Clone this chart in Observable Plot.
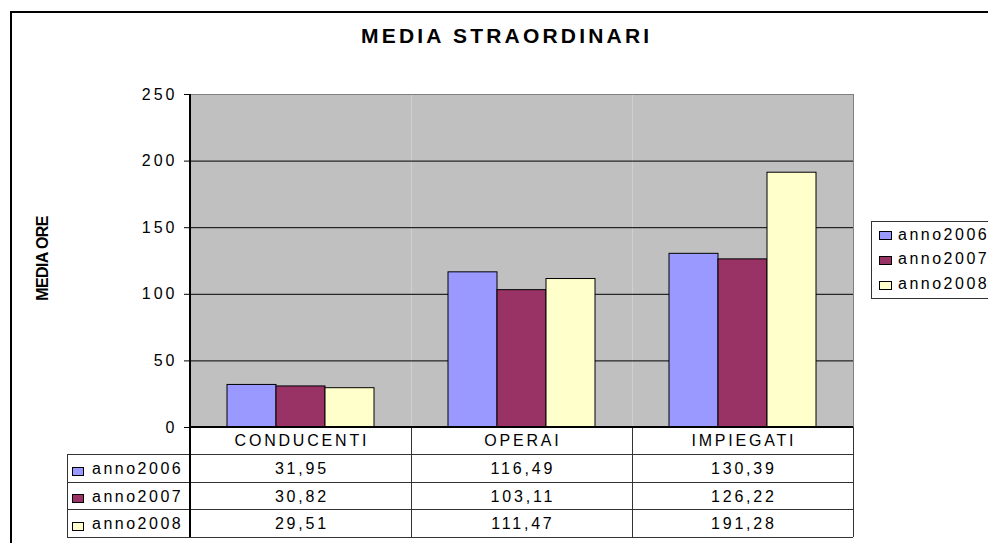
<!DOCTYPE html>
<html><head><meta charset="utf-8">
<script src="https://cdn.jsdelivr.net/npm/d3@7"></script>
<script src="https://cdn.jsdelivr.net/npm/@observablehq/plot@0.6"></script>
<style>
html,body{margin:0;padding:0;background:#fff;overflow:hidden}
#wrap{position:relative;width:988px;height:543px;overflow:hidden;background:#fff}
#border{position:absolute;left:10px;top:11px;width:1100px;height:700px;border:2px solid #000;box-sizing:border-box}
#chart{position:absolute;left:0;top:0}
#chart svg{display:block}
</style></head><body>
<div id="wrap"><div id="border"></div><div id="chart"></div></div>
<script>
const title = "MEDIA STRAORDINARI";
const yLabel = "MEDIA ORE";
const categories = ["CONDUCENTI", "OPERAI", "IMPIEGATI"];
const series = ["anno2006", "anno2007", "anno2008"];
const colors = ["#9999FF", "#993366", "#FFFFCC"];
const anno2006 = [31.95, 116.49, 130.39];
const anno2007 = [30.82, 103.11, 126.22];
const anno2008 = [29.51, 111.47, 191.28];
const yTicks = [0, 50, 100, 150, 200, 250];

const valuesBySeries = [anno2006, anno2007, anno2008];
const rows = series.flatMap((s, i) => categories.map((c, j) => ({series: s, category: c, value: valuesBySeries[i][j]})));
const fmt = v => v.toFixed(2).replace(".", ",");
const FONT = '"Liberation Sans", Arial, sans-serif';

const plot = Plot.plot({
  width: 988, height: 543,
  marginLeft: 190, marginRight: 135, marginTop: 94, marginBottom: 116,
  style: {fontFamily: FONT, fontSize: "16px", color: "#000", background: "transparent", overflow: "visible"},
  fx: {domain: categories, padding: 0, axis: null},
  x: {domain: series, paddingInner: 0, paddingOuter: 0.73, axis: null},
  y: {domain: [0, 250], axis: null},
  color: {domain: series, range: colors},
  marks: [
    Plot.frame({fill: "#c0c0c0"}),
    Plot.gridY({ticks: yTicks.filter(t => t > 0 && t < 250), stroke: "#000", strokeOpacity: 1}),
    Plot.barY(rows, {fx: "category", x: "series", y: "value", fill: "series", stroke: "#000", strokeWidth: 1}),
    Plot.axisY({ticks: yTicks, tickSize: 6, tickPadding: 7, label: null, fontSize: 16, tickFormat: d => String(d)})
  ]
});
document.getElementById("chart").appendChild(plot);

const svg = d3.select(plot);
svg.selectAll('g[aria-label="y-axis tick label"] text')
  .style("letter-spacing", "3px").style("font-size", "16px").style("font-family", FONT);
svg.selectAll('g[aria-label="y-axis tick"]').attr("stroke", "#000");

const fx = plot.scale("fx"), ys = plot.scale("y");
const left = fx.range[0], right = fx.range[1];
const bw = (right - left) / categories.length;
const y0 = ys.apply(0), yTop = ys.apply(250);
const rowH = 27.5;
const labelLeft = left - 123;
const tBottom = y0 + 4 * rowH;

const g = svg.append("g").attr("shape-rendering", "crispEdges");
// plot area edges
g.append("line").attr("x1", left).attr("x2", right).attr("y1", yTop).attr("y2", yTop).attr("stroke", "#808080");
g.append("line").attr("x1", right).attr("x2", right).attr("y1", yTop).attr("y2", y0).attr("stroke", "#808080");
// table lines
for (let k = 1; k <= 4; k++) {
  g.append("line").attr("x1", labelLeft).attr("x2", right).attr("y1", y0 + k * rowH).attr("y2", y0 + k * rowH).attr("stroke", "#333");
}
g.append("line").attr("x1", labelLeft).attr("x2", labelLeft).attr("y1", y0 + rowH).attr("y2", tBottom).attr("stroke", "#333");
for (let k = 1; k <= categories.length; k++) {
  const xx = left + k * bw;
  g.append("line").attr("x1", xx).attr("x2", xx).attr("y1", y0).attr("y2", tBottom).attr("stroke", "#333");
}
// axis lines
g.append("line").attr("x1", left).attr("x2", right).attr("y1", y0).attr("y2", y0).attr("stroke", "#000").attr("stroke-width", 1.5);
g.append("line").attr("x1", left).attr("x2", left).attr("y1", yTop).attr("y2", tBottom).attr("stroke", "#000").attr("stroke-width", 1.5);

const txt = svg.append("g").attr("fill", "#000")
  .style("font-family", FONT).style("font-size", "16px");
const LS = 2.8;
// header row
categories.forEach(c => {
  txt.append("text").attr("x", fx.apply(c) + bw / 2 + LS / 2).attr("y", y0 + rowH / 2 + 5.5)
    .attr("text-anchor", "middle").style("letter-spacing", LS + "px").text(c);
});
// value rows
series.forEach((s, i) => {
  const cy = y0 + rowH * (i + 1.5);
  categories.forEach((c, j) => {
    txt.append("text").attr("x", fx.apply(c) + bw / 2 + LS / 2).attr("y", cy + 6)
      .attr("text-anchor", "middle").style("letter-spacing", LS + "px").text(fmt(valuesBySeries[i][j]));
  });
  g.append("rect").attr("x", labelLeft + 5).attr("y", cy - 1).attr("width", 11).attr("height", 8)
    .attr("fill", colors[i]).attr("stroke", "#000");
  txt.append("text").attr("x", labelLeft + 25).attr("y", cy + 6).attr("text-anchor", "start")
    .style("letter-spacing", "2.5px").text(s);
});

// legend
const legCy = (yTop + y0) / 2 - 1;
const legX = right + 18;
g.append("rect").attr("x", legX).attr("y", legCy - 38.5).attr("width", 200).attr("height", 77)
  .attr("fill", "#fff").attr("stroke", "#333");
series.forEach((s, i) => {
  const base = legCy - 20 + 24.8 * i;
  g.append("rect").attr("x", legX + 8).attr("y", base - 8).attr("width", 12).attr("height", 8)
    .attr("fill", colors[i]).attr("stroke", "#000");
  txt.append("text").attr("x", legX + 27).attr("y", base).attr("text-anchor", "start")
    .style("letter-spacing", "2.5px").text(s);
});

// title
svg.append("text").attr("x", 361).attr("y", 42.5).attr("text-anchor", "start").attr("fill", "#000")
  .style("font-family", FONT).style("font-size", "21px").style("font-weight", "bold")
  .style("letter-spacing", "3.2px").text(title);

// y label
svg.append("text").attr("transform", `translate(42.5,${(yTop + y0) / 2 - 2}) rotate(-90)`)
  .attr("text-anchor", "middle").attr("dominant-baseline", "central").attr("fill", "#000")
  .style("font-family", FONT).style("font-size", "16px").style("font-weight", "bold")
  .style("letter-spacing", "-0.6px").text(yLabel);
</script>
</body></html>
